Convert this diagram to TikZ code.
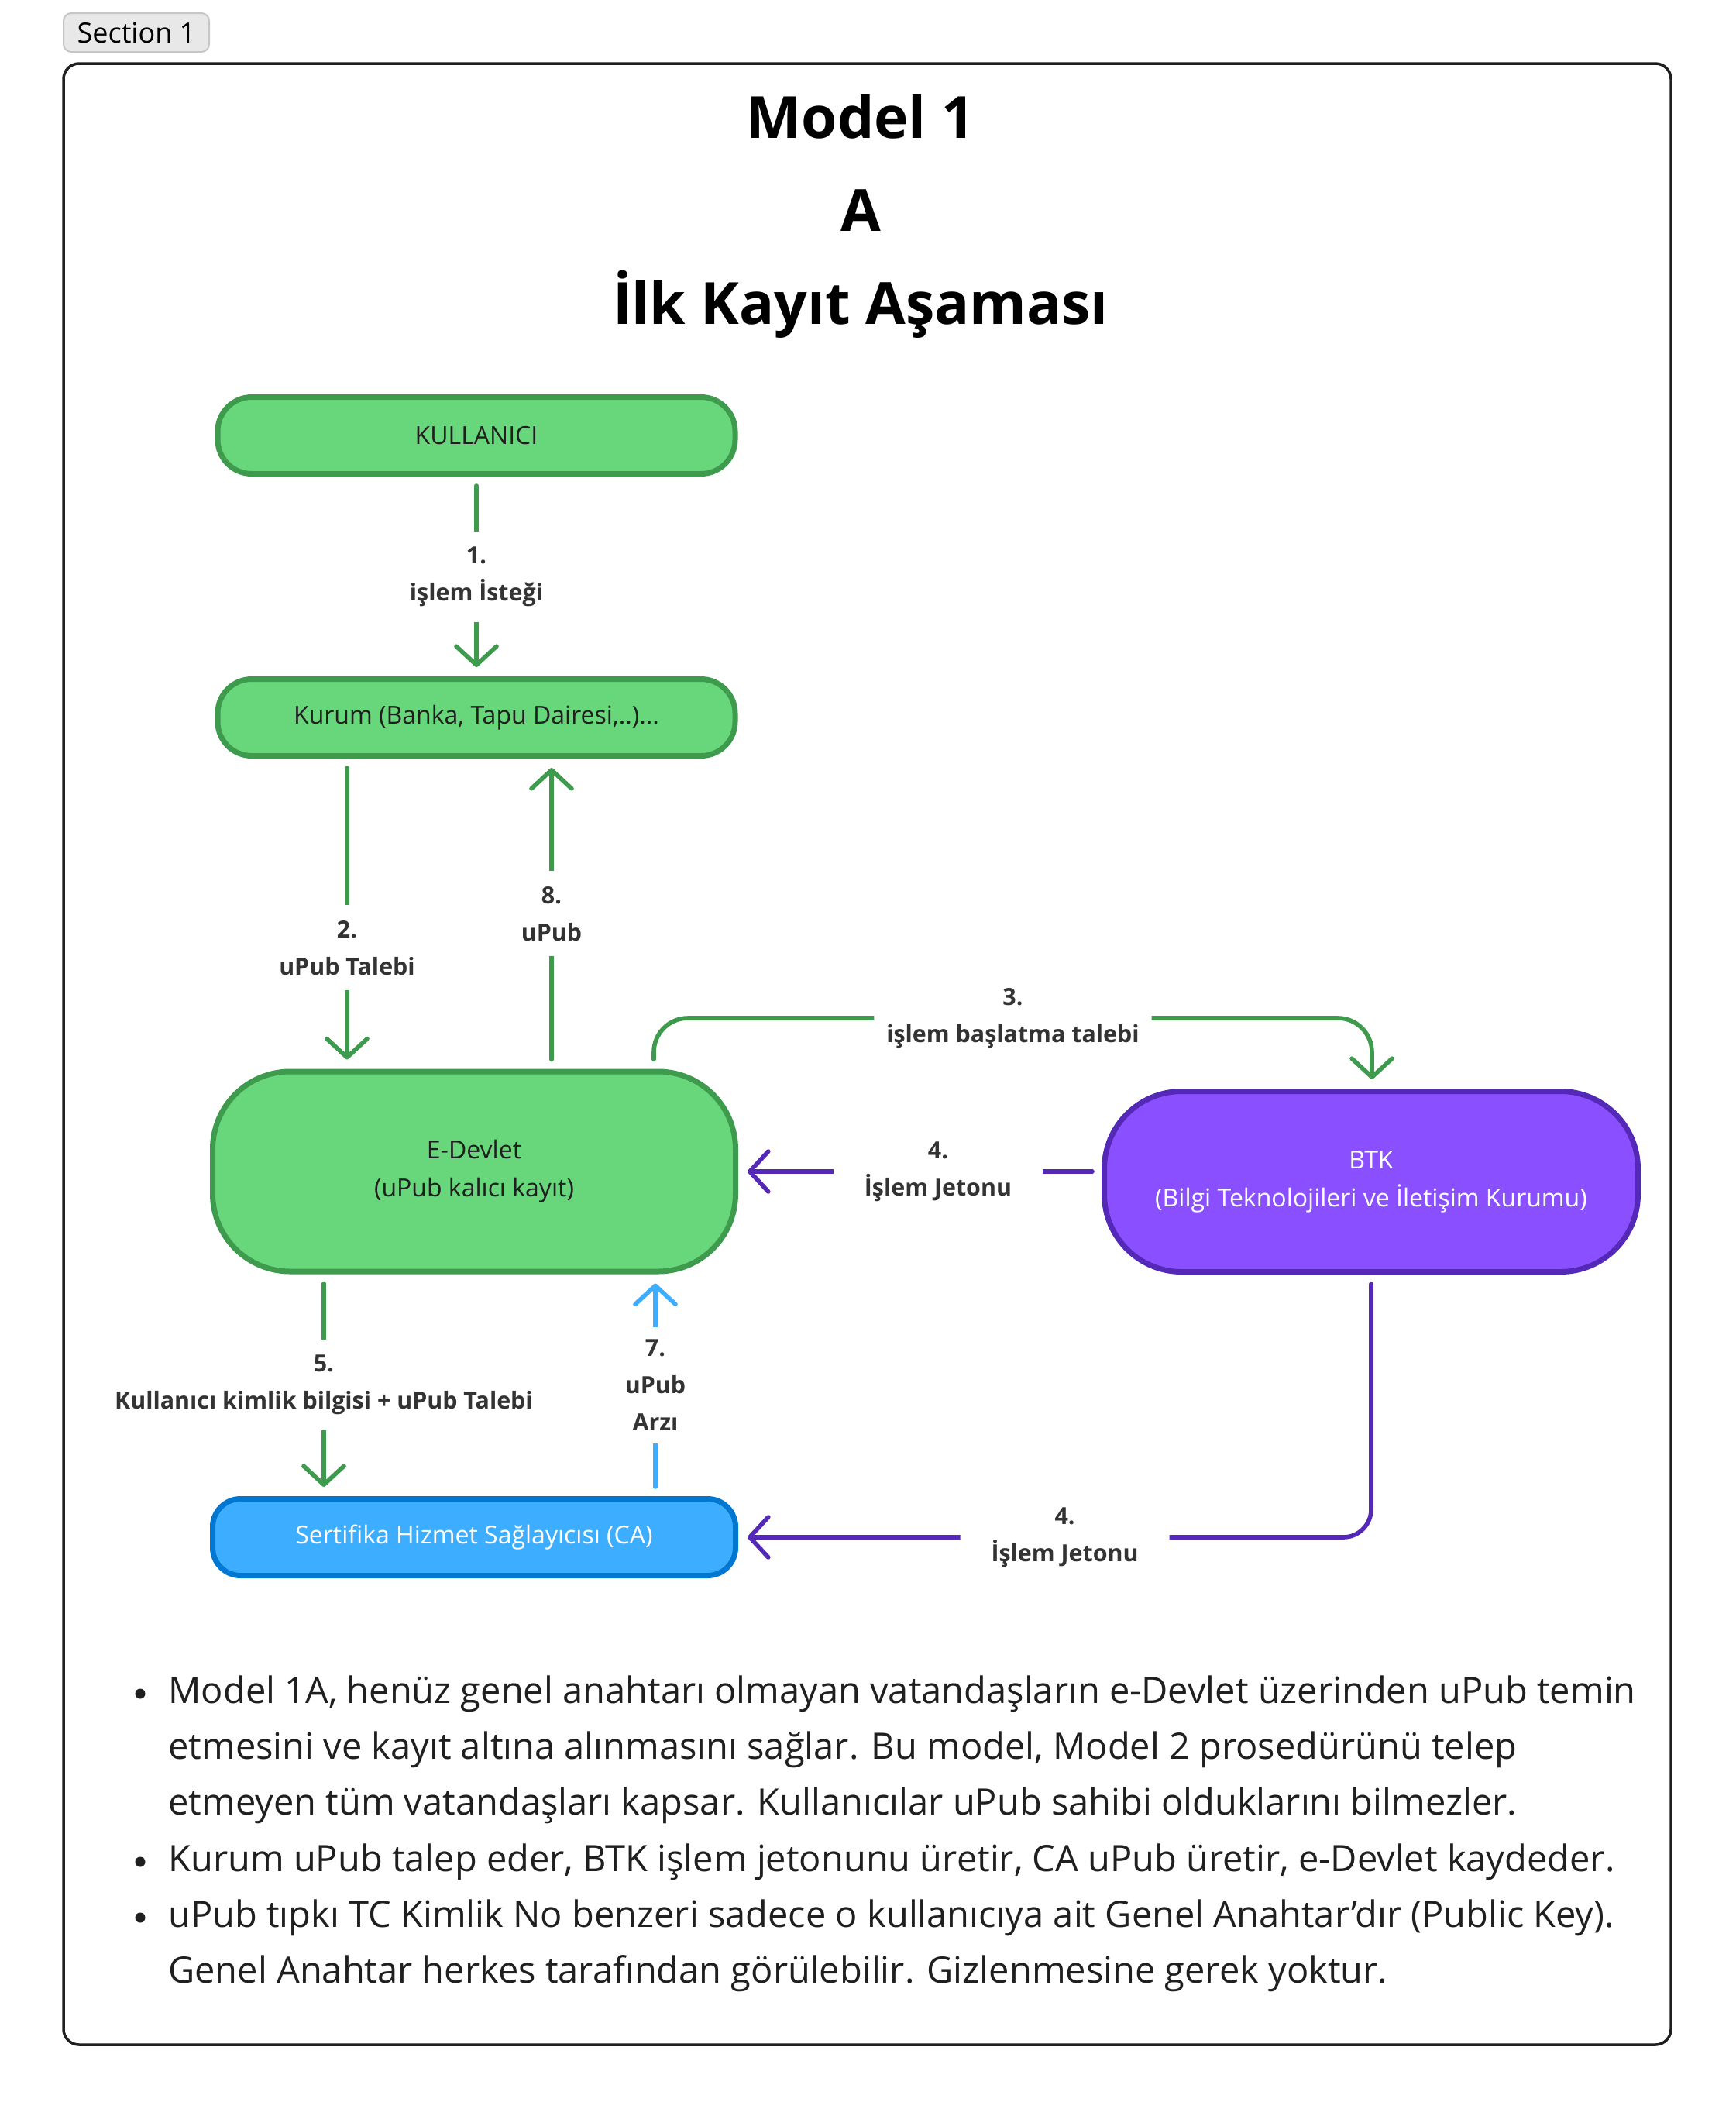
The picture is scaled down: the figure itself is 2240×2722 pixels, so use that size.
\documentclass[tikz,border=0pt]{standalone}
\usepackage{fontspec}
\setmainfont{Open Sans}
\usetikzlibrary{arrows.meta}

\definecolor{gfill}{HTML}{68D67A}
\definecolor{gline}{HTML}{3E9B4E}
\definecolor{pfill}{HTML}{8A50FF}
\definecolor{pline}{HTML}{5529B8}
\definecolor{bfill}{HTML}{3DADFF}
\definecolor{bline}{HTML}{0077D0}
\definecolor{lbltext}{HTML}{333333}
\definecolor{frame}{HTML}{1F1F1F}
\definecolor{tabfill}{HTML}{E8E8E8}
\definecolor{tabline}{HTML}{C6C6C6}

\begin{document}
\begin{tikzpicture}[x=0.5pt, y=-0.5pt,
    box/.style={draw, line width=3.5pt, rounded corners=22pt, align=center,
        minimum width=334pt, minimum height=49.5pt, font=\fontsize{16}{24.5}\selectfont},
    greenbox/.style={box, draw=gline, fill=gfill, text=black!88},
    lbl/.style={fill=white, text=lbltext, align=center, inner xsep=8pt, inner ysep=10pt,
        font=\bfseries\fontsize{15.2}{24}\selectfont},
    flow/.style={line width=2.8pt, line cap=round, shorten <=6pt, shorten >=6pt,
        -{Straight Barb[length=12pt, width=26pt, round]}},
    garrow/.style={flow, draw=gline},
    parrow/.style={flow, draw=pline},
    barrow/.style={flow, draw=bfill},
    dot/.style={circle, fill=black!88, inner sep=0pt, minimum size=6.5pt},
    notes/.style={align=left, anchor=north west, inner sep=0pt, text=black!88,
        font=\fontsize{23.5}{36}\selectfont}]
    \useasboundingbox (0, 0) rectangle (2240, 2722);

    % tab and frame
    \node[draw=tabline, fill=tabfill, line width=1pt, rounded corners=5pt,
        minimum width=94pt, minimum height=25pt, font=\fontsize{18}{20}\selectfont] (tab) at (176, 42) {Section 1};
    \draw[frame, line width=1.75pt, rounded corners=10pt] (82, 82) rectangle (2157, 2639);

    \node[align=center, font=\bfseries\fontsize{37.5}{60}\selectfont] (title) at (1111, 279) {Model 1\\A\\İlk Kayıt Aşaması};

    % boxes
    \node[greenbox] (kul) at (615, 562) {KULLANICI};
    \node[greenbox] (kurum) at (615, 926) {Kurum (Banka, Tapu Dairesi,..)...};
    \node[greenbox, minimum width=337.5pt, minimum height=129pt, rounded corners=50pt] (edevlet) at (612, 1512) {E-Devlet\\(uPub kalıcı kayıt)};
    \node[box, draw=pline, fill=pfill, text=white, minimum width=344.5pt, minimum height=116.5pt, rounded corners=50pt] (btk) at (1770, 1525) {BTK\\(Bilgi Teknolojileri ve İletişim Kurumu)};
    \node[box, draw=bline, fill=bfill, text=white, minimum width=337.5pt, rounded corners=18pt] (ca) at (612, 1984) {Sertifika Hizmet Sağlayıcısı (CA)};

    % connectors
    \draw[garrow] (kul) -- node[lbl] {1.\\işlem İsteği} (kurum);
    \draw[garrow] (448,0 |- kurum.south) -- node[lbl, pos=0.61] {2.\\uPub Talebi} (448,0 |- edevlet.north);
    \draw[garrow] (712,0 |- edevlet.north) -- node[lbl] {8.\\uPub} (712,0 |- kurum.south);
    \draw[garrow, rounded corners=22pt] (844,0 |- edevlet.north) -- (844, 1314)
        -- node[lbl] {3.\\işlem başlatma talebi} (1771, 1314) -- (1771,0 |- btk.north);
    \draw[parrow] (btk.west |- edevlet.east) -- node[lbl, pos=0.45, inner xsep=20pt] {4.\\İşlem Jetonu} (edevlet.east);
    \draw[parrow, rounded corners=18pt] (btk.south) -- (btk.south |- ca.east)
        -- node[lbl, pos=0.484, inner xsep=20pt] {4.\\İşlem Jetonu} (ca.east);
    \draw[garrow] (418,0 |- edevlet.south) -- node[lbl] {5.\\Kullanıcı kimlik bilgisi + uPub Talebi} (418,0 |- ca.north);
    \draw[barrow] (846,0 |- ca.north) -- node[lbl, inner ysep=8pt] {7.\\uPub\\Arzı} (846,0 |- edevlet.south);

    % notes
    \node[dot] (dot1) at (181, 2186) {};
    \node[dot] (dot2) at (181, 2403) {};
    \node[dot] (dot3) at (181, 2475) {};
    \node[notes] (note1) at (217, 2162) {Model 1A, henüz genel anahtarı olmayan vatandaşların e-Devlet üzerinden uPub temin\\etmesini ve kayıt altına alınmasını sağlar. Bu model, Model 2 prosedürünü telep\\etmeyen tüm vatandaşları kapsar. Kullanıcılar uPub sahibi olduklarını bilmezler.};
    \node[notes] (note2) at (217, 2379) {Kurum uPub talep eder, BTK işlem jetonunu üretir, CA uPub üretir, e-Devlet kaydeder.};
    \node[notes] (note3) at (217, 2451) {uPub tıpkı TC Kimlik No benzeri sadece o kullanıcıya ait Genel Anahtar’dır (Public Key).\\Genel Anahtar herkes tarafından görülebilir. Gizlenmesine gerek yoktur.};
\end{tikzpicture}
\end{document}
